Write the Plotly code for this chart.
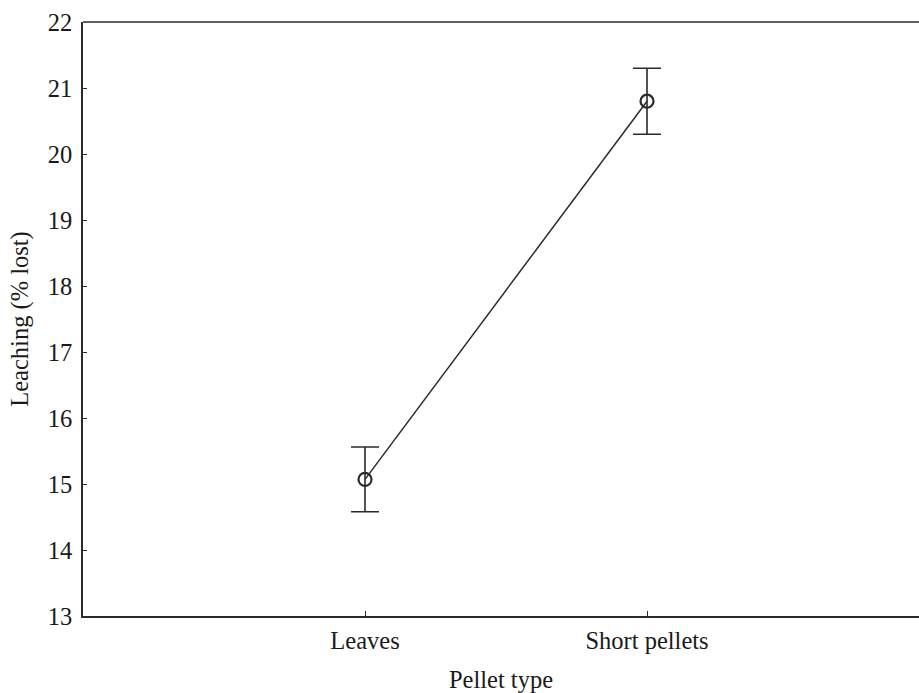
import plotly.graph_objects as go

# Mean leaching per pellet type with error bars
pellet_types = ["Leaves", "Short pellets"]
leaching_mean = [15.07, 20.80]
leaching_err = [0.49, 0.50]
y_ticks = [13, 14, 15, 16, 17, 18, 19, 20, 21, 22]

SERIF = "Liberation Serif"
INK = "#2b2b2b"
TEXT = "#1a1a1a"
SIZE = 24.5
FONT = dict(family=SERIF, size=SIZE, color=TEXT)

x_pos = list(range(len(pellet_types)))

fig = go.Figure()
fig.add_trace(go.Scatter(
    x=x_pos,
    y=leaching_mean,
    mode="lines+markers",
    line=dict(color=INK, width=1.5),
    marker=dict(symbol="circle-open", size=13, color=INK, line=dict(width=2.2, color=INK)),
    error_y=dict(type="data", array=leaching_err, visible=True,
                 color=INK, thickness=1.6, width=14),
    showlegend=False,
))

fig.update_layout(
    width=919, height=693,
    margin=dict(l=83, r=0, t=22, b=77),
    paper_bgcolor="white",
    plot_bgcolor="white",
    font=FONT,
    xaxis=dict(
        range=[-1, 1.9645],
        tickvals=x_pos,
        ticktext=pellet_types,
        ticks="inside", ticklen=5, tickcolor=INK, tickwidth=1,
        showline=True, linecolor=INK, linewidth=1.6,
        showgrid=False, zeroline=False,
        ticklabelstandoff=2,
        title=dict(text="Pellet type", standoff=20, font=dict(family=SERIF, size=SIZE, color=TEXT)),
        tickfont=dict(family=SERIF, size=SIZE, color=TEXT),
    ),
    yaxis=dict(
        range=[13, 22],
        tickvals=y_ticks,
        ticks="inside", ticklen=4, tickcolor=INK, tickwidth=1,
        showline=True, linecolor=INK, linewidth=1.6,
        showgrid=False, zeroline=False,
        ticklabelstandoff=4,
        title=dict(text="Leaching (% lost)", standoff=12, font=dict(family=SERIF, size=SIZE, color=TEXT)),
        tickfont=dict(family=SERIF, size=SIZE, color=TEXT),
    ),
    shapes=[dict(type="line", xref="paper", yref="paper",
                 x0=0, x1=1, y0=1, y1=1,
                 line=dict(color=INK, width=1.6))],
)

fig.write_html("out.html")
